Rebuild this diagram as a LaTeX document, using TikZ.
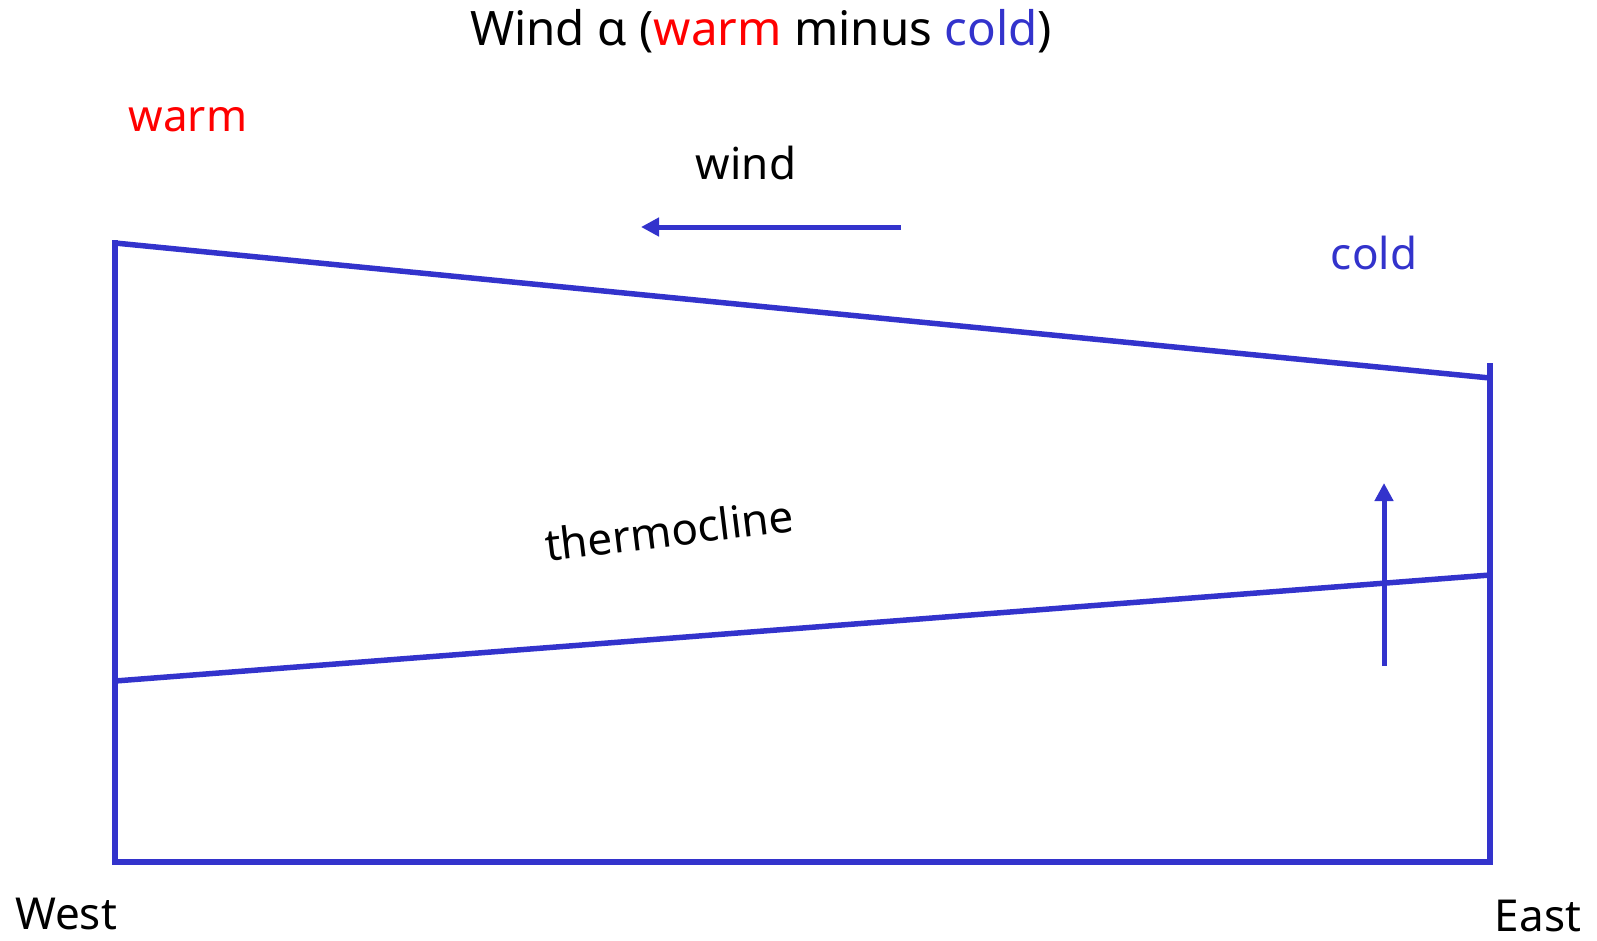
\documentclass[tikz,border=0pt]{standalone}
\usepackage{fontspec}
\setmainfont{Noto Sans}
\usetikzlibrary{arrows.meta}
\definecolor{lineblue}{HTML}{3333CC}
\definecolor{warmred}{HTML}{FF0000}
\tikzset{
  wall/.style={draw=lineblue, line width=5.5pt},
  flow/.style={draw=lineblue, line width=5pt, -{Triangle[length=18pt,width=18pt]}},
  lbl/.style={font=\fontsize{44}{50}\selectfont, inner sep=0pt}
}
\begin{document}
\begin{tikzpicture}[x=1pt,y=-1pt]
\useasboundingbox (0,0) rectangle (1597,940);
\coordinate (tl) at (115,243);
\coordinate (bl) at (115,862);
\coordinate (br) at (1490,862);
\coordinate (tr) at (1490,378);
\coordinate (rtop) at (1490,363);
\coordinate (thl) at (115,681);
\coordinate (thr) at (1490,575);
\coordinate (wstart) at (901,227);
\coordinate (wend) at (641,227);
\coordinate (ustart) at (1384,666);
\coordinate (uend) at (1384,483);
\draw[wall, line cap=rect] (tl) -- (bl) -- (br);
\draw[wall] (rtop) -- (br);
\draw[wall] (tl) -- (tr);
\draw[wall] (thl) -- (thr);
\draw[flow] (wstart) -- (wend);
\draw[flow] (ustart) -- (uend);
\node[lbl, font=\fontsize{47.5}{54}\selectfont] (title) at (761,31) {Wind α (\textcolor{warmred}{warm} minus \textcolor{lineblue}{cold})};
\node[lbl, text=warmred] (warm) at (188,120) {warm};
\node[lbl] (wind) at (746,163) {wind};
\node[lbl, text=lineblue] (cold) at (1374,253) {cold};
\node[lbl, rotate=7] (thermo) at (669,530) {thermocline};
\node[lbl] (west) at (66,914) {West};
\node[lbl] (east) at (1538,916) {East};
\end{tikzpicture}
\end{document}
